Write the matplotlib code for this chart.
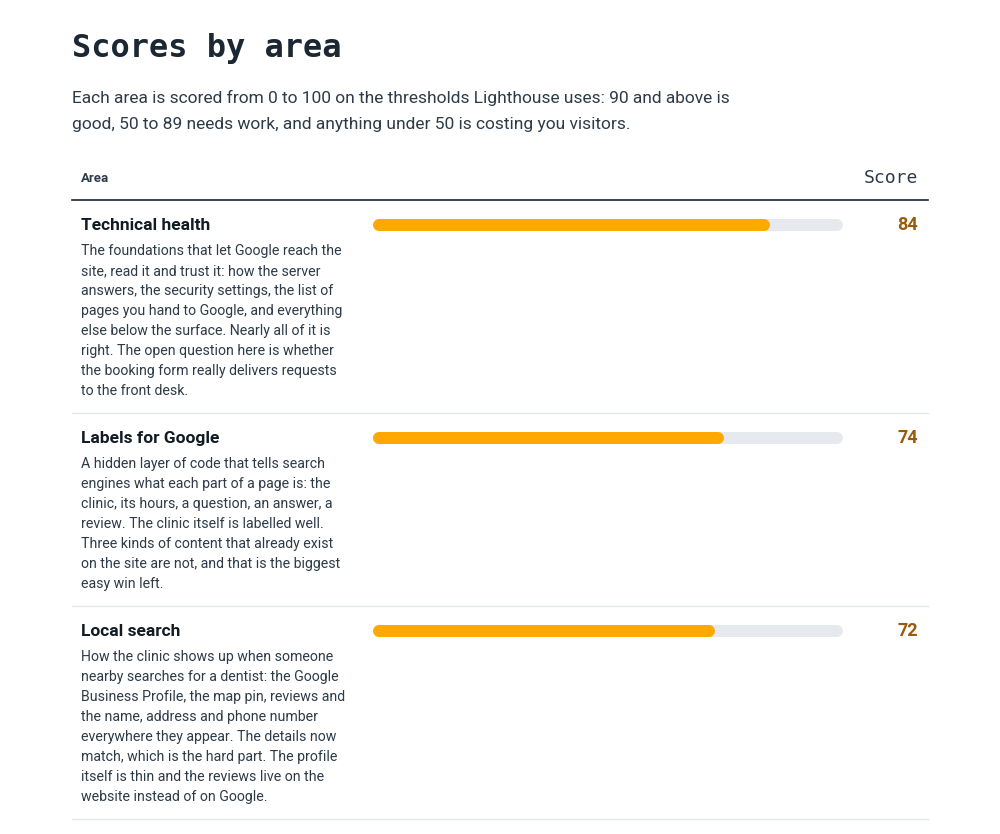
import matplotlib.pyplot as plt

areas = ["Technical health", "Labels for Google", "Local search"]
scores = [84, 74, 72]
descriptions = [
    ["The foundations that let Google reach the",
     "site, read it and trust it: how the server",
     "answers, the security settings, the list of",
     "pages you hand to Google, and everything",
     "else below the surface. Nearly all of it is",
     "right. The open question here is whether",
     "the booking form really delivers requests",
     "to the front desk."],
    ["A hidden layer of code that tells search",
     "engines what each part of a page is: the",
     "clinic, its hours, a question, an answer, a",
     "review. The clinic itself is labelled well.",
     "Three kinds of content that already exist",
     "on the site are not, and that is the biggest",
     "easy win left."],
    ["How the clinic shows up when someone",
     "nearby searches for a dentist: the Google",
     "Business Profile, the map pin, reviews and",
     "the name, address and phone number",
     "everywhere they appear. The details now",
     "match, which is the hard part. The profile",
     "itself is thin and the reviews live on the",
     "website instead of on Google."],
]
row_tops = [200, 413, 606]
row_bottoms = [413, 606, 819]

DARK = "#1b2733"
TEXT = "#2d3b48"
ORANGE = "#ffa800"
TRACK = "#e6e9ed"
SCORE = "#9a5a0a"

fig = plt.figure(figsize=(10, 8.34), dpi=100, facecolor="white")
ax = fig.add_axes([0, 0, 1, 1])
ax.set_xlim(0, 1000)
ax.set_ylim(834, 0)
ax.axis("off")

ax.text(72, 48, "Scores by area", fontsize=23, fontweight="bold", color=DARK,
        family="DejaVu Sans Mono", va="center")
ax.text(72, 98, "Each area is scored from 0 to 100 on the thresholds Lighthouse uses: 90 and above is",
        fontsize=12.5, color=TEXT, family="Roboto", va="center")
ax.text(72, 124, "good, 50 to 89 needs work, and anything under 50 is costing you visitors.",
        fontsize=12.5, color=TEXT, family="Roboto", va="center")

ax.text(81, 178, "Area", fontsize=9.5, fontweight="bold", color=TEXT, family="Roboto", va="center")
ax.text(918, 178, "Score", fontsize=13, color=TEXT, family="DejaVu Sans Mono", va="center", ha="right")
ax.plot([72, 928], [200, 200], color=DARK, lw=1.2)

bar_x0, bar_x1 = 379, 837
bar_w = 12 * 72 / 100
for area, score, desc, top, bottom in zip(areas, scores, descriptions, row_tops, row_bottoms):
    y = top + 25
    ax.text(81, y, area, fontsize=12.5, fontweight="bold", color="#111b24", family="Roboto", va="center")
    for i, line in enumerate(desc):
        ax.text(81, top + 51 + i * 20, line, fontsize=10.2, color=TEXT, family="Roboto", va="center")
    ax.plot([bar_x0, bar_x1], [y, y], color=TRACK, lw=bar_w, solid_capstyle="round")
    ax.plot([bar_x0, bar_x0 + (bar_x1 - bar_x0) * score / 100], [y, y], color=ORANGE,
            lw=bar_w, solid_capstyle="round")
    ax.text(918, y, str(score), fontsize=13, fontweight="bold", color=SCORE, family="Roboto",
            va="center", ha="right")
    ax.plot([72, 928], [bottom, bottom], color="#e4e7ea", lw=1)

plt.savefig("out.png", dpi=100, facecolor="white")
